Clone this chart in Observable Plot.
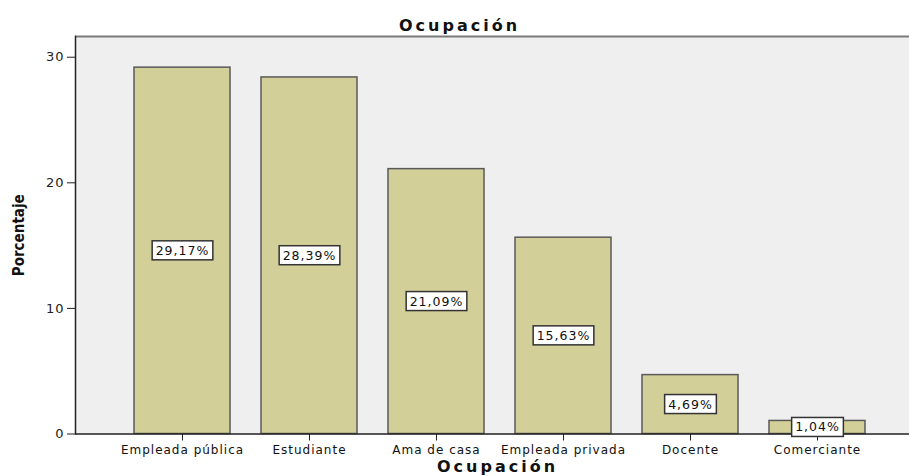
<!DOCTYPE html>
<html>
<head>
<meta charset="utf-8">
<script src="https://cdn.jsdelivr.net/npm/d3@7"></script>
<script src="https://cdn.jsdelivr.net/npm/@observablehq/plot@0.6"></script>
<style>
  body { margin: 0; background: #ffffff; }
  #chart svg { display: block; overflow: hidden; }
  #chart svg text { letter-spacing: 1px; }
  #chart g[aria-description="title"] text, #chart g[aria-description="xtitle"] text { letter-spacing: 3px; }
  #chart g[aria-description="ytitle"] text { letter-spacing: 0px; }
</style>
</head>
<body>
<div id="chart"></div>
<script>
// ---- data ----
const categories = ["Empleada pública", "Estudiante", "Ama de casa", "Empleada privada", "Docente", "Comerciante"];
const values = [29.17, 28.39, 21.09, 15.63, 4.69, 1.04];
const yTicks = [0, 10, 20, 30];
const yMax = 31.65;
const chartTitle = "Ocupación";
const xTitle = "Ocupación";
const yTitle = "Porcentaje";

const rows = categories.map((c, i) => ({ cat: c, v: values[i], label: values[i].toFixed(2).replace(".", ",") + "%" }));

const barFill = "#d3cf98";
const barStroke = "#5a5a5a";
const bg = "#efefef";
const font = "'DejaVu Sans', 'Liberation Sans', sans-serif";

const chart = Plot.plot({
  width: 909,
  height: 476,
  marginLeft: 75,
  marginRight: 0,
  marginTop: 36,
  marginBottom: 42.5,
  style: { fontFamily: font, fontSize: "12px", color: "#222", background: "#ffffff" },
  x: { domain: categories, paddingInner: 0.245, paddingOuter: 0.1225, insetLeft: 42.4, insetRight: 28.4, label: null },
  y: { domain: [0, yMax], label: null },
  marks: [
    Plot.frame({ fill: bg, stroke: null }),
    Plot.ruleY([yMax], { stroke: "#7a7a7a", strokeWidth: 2 }),
    Plot.barY(rows, { x: "cat", y: "v", fill: barFill, stroke: barStroke, strokeWidth: 1.5 }),
    Plot.frame({ anchor: "left", stroke: "#222", strokeWidth: 1.5 }),
    Plot.ruleY([0], { stroke: "#222", strokeWidth: 1.5 }),
    Plot.axisY({ ticks: yTicks, tickSize: 8, tickPadding: 3, tickFormat: d => String(d), label: null, stroke: "#222", fill: "#222", fontSize: 13 }),
    Plot.axisX({ tickSize: 7, tickPadding: 4, label: null, stroke: "#222", fill: "#111", fontSize: 12 }),
    Plot.text(rows, { x: "cat", y: d => d.v / 2, text: "label", fontSize: 12.5, fill: "#111", ariaDescription: "pctlabel" }),
    Plot.text([chartTitle], { frameAnchor: "top", dx: -33, dy: -11, lineAnchor: "middle", fontSize: 16, fontWeight: "bold", fill: "#111", ariaDescription: "title" }),
    Plot.text([xTitle], { frameAnchor: "bottom", dx: 5, dy: 32.5, lineAnchor: "middle", fontSize: 16, fontWeight: "bold", fill: "#111", ariaDescription: "xtitle" }),
    Plot.text([yTitle], { frameAnchor: "left", dx: -56, rotate: -90, textAnchor: "middle", lineAnchor: "middle", fontSize: 15, fontWeight: "bold", fill: "#111", fontFamily: "'Liberation Sans Narrow', 'DejaVu Sans Condensed', 'DejaVu Sans', sans-serif", ariaDescription: "ytitle" })
  ]
});

document.getElementById("chart").appendChild(chart);

// white boxes behind percentage labels
const g = chart.querySelector('g[aria-description="pctlabel"]');
if (g) {
  g.querySelectorAll("text").forEach(t => {
    const b = t.getBBox();
    const padX = 3.5, padY = 2;
    const r = document.createElementNS("http://www.w3.org/2000/svg", "rect");
    r.setAttribute("x", b.x - padX);
    r.setAttribute("y", b.y - padY);
    r.setAttribute("width", b.width + 2 * padX);
    r.setAttribute("height", b.height + 2 * padY);
    r.setAttribute("fill", "#ffffff");
    r.setAttribute("stroke", "#333");
    r.setAttribute("stroke-width", "1.5");
    const tr = t.getAttribute("transform");
    if (tr) r.setAttribute("transform", tr);
    t.parentNode.insertBefore(r, t);
  });
}
</script>
</body>
</html>
